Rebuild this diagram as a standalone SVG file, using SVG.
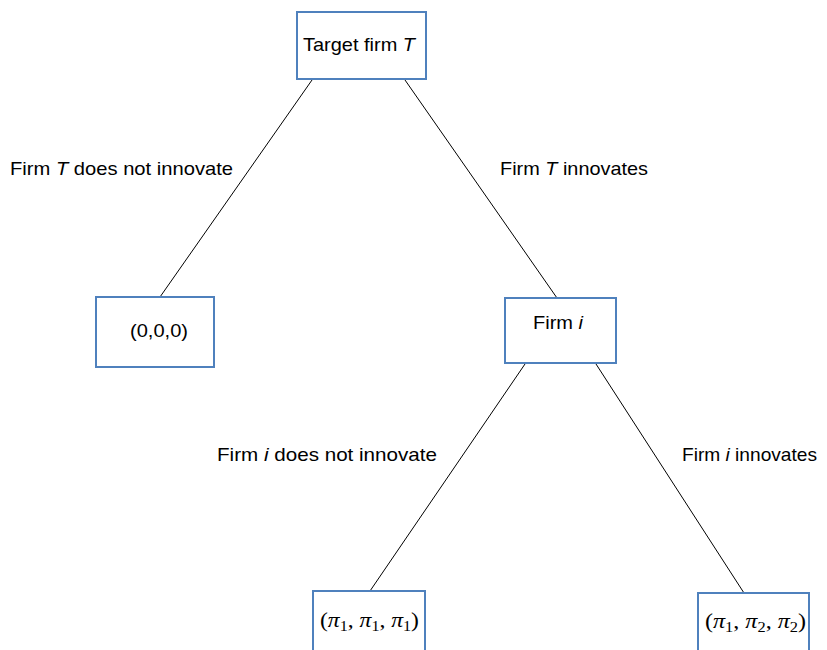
<svg xmlns="http://www.w3.org/2000/svg" width="827" height="650" viewBox="0 0 827 650">
<style>
.box{fill:#fff;stroke:#4f81bd;stroke-width:2}
.t{font-family:"Liberation Sans",Arial,sans-serif;font-size:19px;fill:#000}
.m{font-family:"Liberation Serif","DejaVu Serif",serif;font-size:22px;fill:#000}
.c{stroke:#000;stroke-width:1;fill:none}
</style>
<rect width="827" height="650" fill="#fff"/>
<g id="connectors">
<line class="c" x1="312" y1="80" x2="160" y2="297"/>
<line class="c" x1="405" y1="80" x2="557" y2="298"/>
<line class="c" x1="525" y1="364" x2="370" y2="591"/>
<line class="c" x1="596" y1="364" x2="744" y2="593"/>
</g>
<g id="labels">
<text class="t" x="10" y="175" textLength="223" lengthAdjust="spacingAndGlyphs">Firm <tspan font-style="italic">T</tspan> does not innovate</text>
<text class="t" x="500" y="175" textLength="148" lengthAdjust="spacingAndGlyphs">Firm <tspan font-style="italic">T</tspan> innovates</text>
<text class="t" x="217" y="461" textLength="220" lengthAdjust="spacingAndGlyphs">Firm <tspan font-style="italic">i</tspan> does not innovate</text>
<text class="t" x="682" y="461" textLength="135" lengthAdjust="spacingAndGlyphs">Firm <tspan font-style="italic">i</tspan> innovates</text>
</g>
<g id="root">
<rect class="box" x="297" y="12" width="129" height="67"/>
<text class="t" x="303" y="51" textLength="112" lengthAdjust="spacingAndGlyphs">Target firm <tspan font-style="italic">T</tspan></text>
</g>
<g id="leaf0">
<rect class="box" x="96" y="297" width="118" height="70"/>
<text class="t" x="130" y="337" textLength="58" lengthAdjust="spacingAndGlyphs">(0,0,0)</text>
</g>
<g id="firmi">
<rect class="box" x="505" y="298" width="111" height="65"/>
<text class="t" x="533" y="329" textLength="50" lengthAdjust="spacingAndGlyphs">Firm <tspan font-style="italic">i</tspan></text>
</g>
<g id="leaf1">
<rect class="box" x="313" y="591" width="112" height="70"/>
<text class="m" x="320" y="627" textLength="99" lengthAdjust="spacingAndGlyphs">(<tspan font-style="italic">π</tspan><tspan font-size="15" dy="4">1</tspan><tspan dy="-4">, </tspan><tspan font-style="italic">π</tspan><tspan font-size="15" dy="4">1</tspan><tspan dy="-4">, </tspan><tspan font-style="italic">π</tspan><tspan font-size="15" dy="4">1</tspan><tspan dy="-4">)</tspan></text>
</g>
<g id="leaf2">
<rect class="box" x="698" y="593" width="111" height="70"/>
<text class="m" x="705" y="628" textLength="101" lengthAdjust="spacingAndGlyphs">(<tspan font-style="italic">π</tspan><tspan font-size="15" dy="4">1</tspan><tspan dy="-4">, </tspan><tspan font-style="italic">π</tspan><tspan font-size="15" dy="4">2</tspan><tspan dy="-4">, </tspan><tspan font-style="italic">π</tspan><tspan font-size="15" dy="4">2</tspan><tspan dy="-4">)</tspan></text>
</g>
</svg>
